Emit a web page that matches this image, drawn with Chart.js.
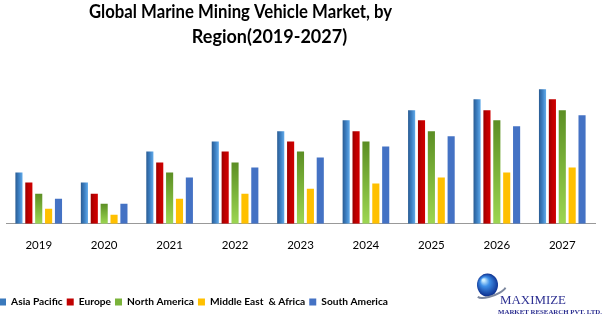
<!DOCTYPE html>
<html><head><meta charset="utf-8">
<script src="https://cdn.jsdelivr.net/npm/chart.js@4.4.0/dist/chart.umd.min.js"></script>
<style>
html,body{margin:0;padding:0;background:#fff;overflow:hidden;width:606px;height:325px;}
#wrap{position:absolute;left:-5px;top:0;width:611px;height:325px;}
</style></head><body>
<div id="wrap"><canvas id="c"></canvas></div>
<script>
// ---- data ----
const years = ['2019','2020','2021','2022','2023','2024','2025','2026','2027'];
const asiaPacific      = [5.1, 4.1, 7.2, 8.2, 9.2, 10.3, 11.3, 12.4, 13.4];
const europe           = [4.1, 3.0, 6.1, 7.2, 8.2, 9.2, 10.3, 11.3, 12.4];
const northAmerica     = [3.0, 2.0, 5.1, 6.1, 7.2, 8.2, 9.2, 10.3, 11.3];
const middleEastAfrica = [1.5, 0.9, 2.5, 3.0, 3.5, 4.0, 4.6, 5.1, 5.6];
const southAmerica     = [2.5, 2.0, 4.6, 5.6, 6.6, 7.7, 8.7, 9.7, 10.8];
const seriesNames = ['Asia Pacific','Europe','North America','Middle East  & Africa','South America'];
const titleLines = ['Global Marine Mining Vehicle Market, by','Region(2019-2027)'];

// ---- styles ----
const OFF = 5;
const CAT_PCT = 0.755, BAR_PCT = 0.72;
const legendColors = ['#3A79BC','#C00000','#7AB33A','#FFC000','#4472C4'];

function barBox(context){
  const chart = context.chart;
  const xs = chart.scales && chart.scales.x, ys = chart.scales && chart.scales.y;
  if (!xs || !ys || !(xs.width > 0)) return null;
  const n = chart.data.labels.length, nd = chart.data.datasets.length;
  const cat = xs.width / n, grp = cat * CAT_PCT, slot = grp / nd, w = slot * BAR_PCT;
  const cx = xs.getPixelForValue(context.dataIndex) - grp/2 + slot*(context.datasetIndex + 0.5);
  const t = ys.getPixelForValue(context.raw), b = ys.getPixelForValue(0);
  if (![cx,t,b,w].every(isFinite)) return null;
  return {l: cx - w/2, r: cx + w/2, t, b};
}
function hGrad(stops, fallback){
  return (context) => {
    if (context.type !== 'data') return fallback;
    const bb = barBox(context); if (!bb) return fallback;
    const g = context.chart.ctx.createLinearGradient(bb.l, 0, bb.r, 0);
    stops.forEach((s,i)=>g.addColorStop(i/(stops.length-1), s));
    return g;
  };
}
function vGrad(stops, fallback){
  return (context) => {
    if (context.type !== 'data') return fallback;
    const bb = barBox(context); if (!bb || bb.b - bb.t < 1) return fallback;
    const g = context.chart.ctx.createLinearGradient(0, bb.t, 0, bb.b);
    stops.forEach((s,i)=>g.addColorStop(i/(stops.length-1), s));
    return g;
  };
}

const overlay = {
  id: 'overlay',
  afterDraw(chart){
    const ctx = chart.ctx;
    ctx.save();
    // title
    ctx.fillStyle = '#000';
    ctx.textAlign = 'center';
    ctx.textBaseline = 'alphabetic';
    ctx.font = 'bold 18px Lato';
    ctx.fillText(titleLines[0], 240.5 + OFF, 18, 303);
    ctx.fillText(titleLines[1], 269.5 + OFF, 43, 164);
    // logo globe
    const gx = 487.5 + OFF, gy = 285, r = 11.5;
    const rg = ctx.createRadialGradient(gx-4, gy-5, 1, gx, gy, r);
    rg.addColorStop(0, '#CFEFFF'); rg.addColorStop(0.35, '#3E8FE8'); rg.addColorStop(1, '#0B2C8C');
    ctx.fillStyle = rg;
    ctx.beginPath(); ctx.ellipse(gx, gy, r-1, r, 0, 0, Math.PI*2); ctx.fill();
    ctx.strokeStyle = '#7C879E'; ctx.lineWidth = 2;
    ctx.beginPath(); ctx.ellipse(gx + 4, gy + 6, 15, 5, -0.35, 0.1*Math.PI, 0.95*Math.PI); ctx.stroke();
    // logo text
    ctx.textAlign = 'left';
    ctx.fillStyle = '#2E3192';
    ctx.font = '13px "Liberation Serif"';
    ctx.fillText('MAXIMIZE', 500 + OFF, 304, 66);
    ctx.font = 'bold 7px "Liberation Serif"';
    ctx.fillText('MARKET RESEARCH PVT. LTD.', 498 + OFF, 314, 104);
    ctx.restore();
  }
};

new Chart(document.getElementById('c'), {
  type: 'bar',
  data: {
    labels: years,
    datasets: [
      {label: seriesNames[0], data: asiaPacific, backgroundColor: hGrad(['#2A5C93','#3C7FC2','#62ABEA'], legendColors[0])},
      {label: seriesNames[1], data: europe, backgroundColor: hGrad(['#9A0000','#C00000','#D00000'], legendColors[1])},
      {label: seriesNames[2], data: northAmerica, backgroundColor: vGrad(['#5C8E24','#7BB33A','#9DD652'], legendColors[2])},
      {label: seriesNames[3], data: middleEastAfrica, backgroundColor: legendColors[3]},
      {label: seriesNames[4], data: southAmerica, backgroundColor: legendColors[4]}
    ]
  },
  options: {
    responsive: true,
    maintainAspectRatio: false,
    animation: false,
    datasets: {bar: {categoryPercentage: CAT_PCT, barPercentage: BAR_PCT, borderWidth: 0}},
    layout: {padding: {top: 60, left: 0, right: 11, bottom: 8}},
    scales: {
      x: {
        grid: {display: false, drawTicks: false},
        border: {display: true, color: '#999999', width: 1},
        ticks: {color: '#000', padding: 15, font: {family: 'Lato', size: 11.5}},
        afterFit(scale){ scale.height = 69; }
      },
      y: {
        display: true, min: 0, max: 16.3,
        grid: {display: false, drawTicks: false},
        border: {display: false},
        ticks: {display: false},
        afterFit(scale){ scale.width = 11; }
      }
    },
    plugins: {
      title: {display: false},
      tooltip: {enabled: false},
      legend: {
        position: 'bottom',
        align: 'start',
        labels: {
          boxWidth: 7, boxHeight: 7, padding: 4, color: '#000',
          font: {family: 'Lato', size: 10.2, weight: 'bold'},
          generateLabels(chart){
            const items = Chart.defaults.plugins.legend.labels.generateLabels(chart);
            items.forEach((it,i)=>{ it.fillStyle = legendColors[i]; it.strokeStyle = legendColors[i]; it.lineWidth = 0; });
            return items;
          }
        }
      }
    }
  },
  plugins: [overlay]
});
</script>
</body></html>
